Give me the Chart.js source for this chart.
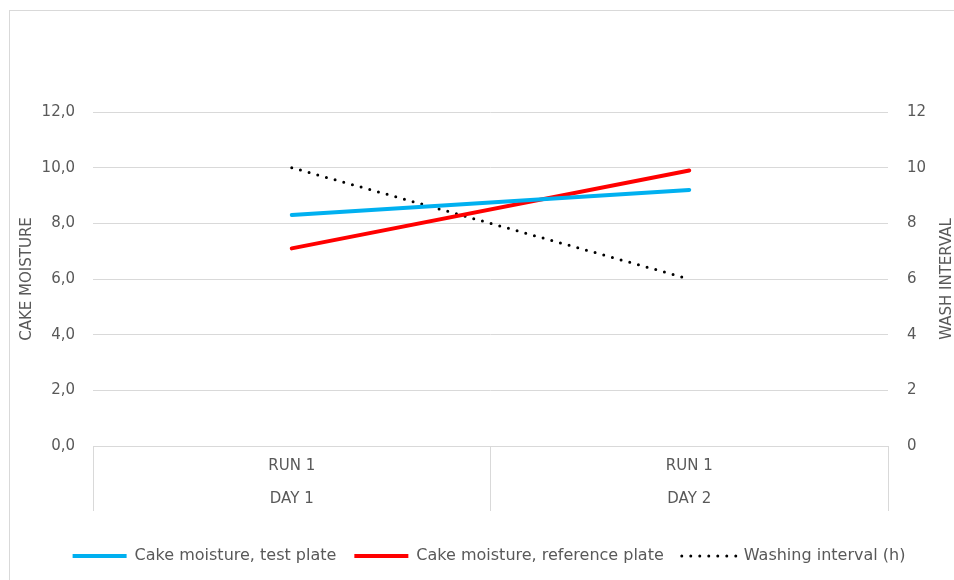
<!DOCTYPE html>
<html>
<head>
<meta charset="utf-8">
<title>Cake moisture</title>
<script src="https://cdn.jsdelivr.net/npm/chart.js@4.4.0/dist/chart.umd.min.js"></script>
<style>
  html, body { margin: 0; padding: 0; background: #fff; }
  #wrap { position: relative; width: 954px; height: 580px; }
</style>
</head>
<body>
<div id="wrap"><canvas id="myChart" width="954" height="580"></canvas></div>
<script>
// data
const categories = [['RUN 1', 'DAY 1'], ['RUN 1', 'DAY 2']];
const testPlate = [8.3, 9.2];
const referencePlate = [7.1, 9.9];
const washInterval = [10, 6];
const leftTicks = [0, 2, 4, 6, 8, 10, 12];

const grey = '#595959';
const gridGrey = '#d9d9d9';
const font = { family: "'DejaVu Sans', sans-serif", size: 15 };

// light frame of the excel chart area + right title that reads bottom-up
const frame = {
  id: 'frame',
  beforeDraw(chart) {
    const ctx = chart.ctx;
    ctx.save();
    ctx.strokeStyle = gridGrey;
    ctx.lineWidth = 1;
    ctx.strokeRect(9.5, 10.5, chart.width, chart.height);
    ctx.restore();
  },
  afterDraw(chart) {
    const s = chart.scales.y2;
    const ctx = chart.ctx;
    ctx.save();
    ctx.translate(s.right - 7, (chart.chartArea.top + chart.chartArea.bottom) / 2);
    ctx.rotate(-Math.PI / 2);
    ctx.font = "15px 'DejaVu Sans', sans-serif";
    ctx.fillStyle = grey;
    ctx.textAlign = 'center';
    ctx.textBaseline = 'middle';
    ctx.fillText('WASH INTERVAL', 0, 0);
    ctx.restore();
  }
};

var chart = new Chart(document.getElementById('myChart').getContext('2d'), {
  type: 'line',
  plugins: [frame],
  data: {
    labels: categories,
    datasets: [{
      label: 'Cake moisture, test plate',
      data: testPlate,
      borderColor: '#00b0f0',
      backgroundColor: '#00b0f0',
      borderWidth: 4,
      borderCapStyle: 'round',
      pointRadius: 0,
      yAxisID: 'y'
    }, {
      label: 'Cake moisture, reference plate',
      data: referencePlate,
      borderColor: '#ff0000',
      backgroundColor: '#ff0000',
      borderWidth: 4,
      borderCapStyle: 'round',
      pointRadius: 0,
      yAxisID: 'y'
    }, {
      label: 'Washing interval (h)',
      data: washInterval,
      borderColor: '#000000',
      backgroundColor: '#000000',
      borderWidth: 3,
      borderDash: [0, 9],
      borderCapStyle: 'round',
      pointRadius: 0,
      yAxisID: 'y2'
    }]
  },
  options: {
    responsive: false,
    animation: false,
    layout: { padding: { top: 112, left: 24, right: 0, bottom: 6 } },
    plugins: {
      tooltip: { enabled: false },
      legend: {
        position: 'bottom',
        labels: {
          color: grey,
          font: { family: "'DejaVu Sans', sans-serif", size: 16 },
          boxWidth: 54,
          boxHeight: 0,
          padding: 18
        }
      }
    },
    scales: {
      x: {
        offset: true,
        grid: {
          offset: true,
          drawOnChartArea: false,
          drawTicks: true,
          tickLength: 65,
          color: gridGrey
        },
        border: { display: true, color: gridGrey },
        ticks: {
          color: grey,
          font: Object.assign({ lineHeight: 2.2 }, font),
          padding: -61.5,
          maxRotation: 0
        },
        afterFit(scale) { scale.height = 84; }
      },
      y: {
        position: 'left',
        min: 0,
        max: 12,
        afterBuildTicks(scale) { scale.ticks = leftTicks.map(v => ({ value: v })); },
        grid: { drawTicks: false, color: gridGrey },
        border: { display: false },
        ticks: {
          color: grey,
          font: font,
          padding: 18,
          callback: v => v.toFixed(1).replace('.', ',')
        },
        title: {
          display: true,
          text: 'CAKE MOISTURE',
          color: grey,
          font: font,
          padding: { top: -6, bottom: 0 }
        },
        afterFit(scale) { scale.width = 69; }
      },
      y2: {
        position: 'right',
        min: 0,
        max: 12,
        afterBuildTicks(scale) { scale.ticks = leftTicks.map(v => ({ value: v })); },
        grid: { drawOnChartArea: false, drawTicks: false },
        border: { display: false },
        ticks: { color: grey, font: font, padding: 19 },
        afterFit(scale) { scale.width = 66; }
      }
    }
  }
});
</script>
</body>
</html>
